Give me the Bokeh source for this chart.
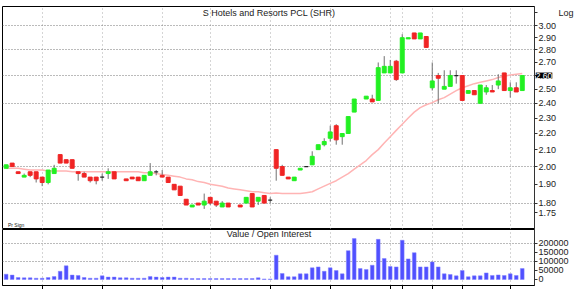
import math
from bokeh.plotting import figure
from bokeh.layouts import column
from bokeh.models import Range1d, FixedTicker, PrintfTickFormatter, Label
from bokeh.embed import file_html
from bokeh.resources import INLINE

NaN = float("nan")

# ---- data ----
day = list(range(87))
open_ = [1.99, 2.02, 1.97, 1.94, 1.97, 1.97, 1.94, 1.91, 1.96, 2.07, 2.04, 2.04, 1.97, 1.96, 1.94, 1.94, 1.94, 1.96, 1.97, NaN,
         1.93, 1.94, 1.94, 1.92, 1.95, 1.97, 1.95, 1.94, 1.90, 1.89, 1.82, 1.78, 1.80, 1.79, 1.83, 1.81, 1.78, 1.80, NaN, 1.79,
         1.80, 1.85, 1.81, 1.84, 1.815, 2.10, 2.00, 1.94, 1.92, 1.98, 2.00, 2.01, 2.10, 2.13, 2.17, 2.25, 2.18, 2.20, 2.34, NaN,
         2.43, 2.43, 2.42, 2.62, 2.62, 2.71, 2.62, 2.89, 2.94, 2.89, 2.91, 2.51, 2.60, 2.50, 2.52, 2.60, 2.60, 2.47, 2.49, 2.40,
         2.48, 2.49, 2.53, 2.62, 2.49, 2.51, 2.49]
high = [2.01, 2.02, 1.97, 1.96, 1.97, 1.97, 1.94, 1.98, 2.01, 2.07, 2.04, 2.04, 1.97, 1.97, 1.94, 1.94, 1.96, 1.99, 1.97, NaN,
        1.93, 1.94, 1.94, 1.95, 2.02, 1.98, 1.98, 1.94, 1.90, 1.89, 1.82, 1.79, 1.80, 1.85, 1.83, 1.81, 1.81, 1.80, NaN, 1.79,
        1.83, 1.85, 1.83, 1.84, 1.83, 2.10, 2.01, 1.94, 1.94, 1.99, 2.00, 2.09, 2.13, 2.17, 2.25, 2.26, 2.20, 2.31, 2.43, NaN,
        2.45, 2.46, 2.70, 2.75, 2.72, 2.72, 2.93, 2.90, 2.94, 2.94, 2.91, 2.70, 2.62, 2.64, 2.64, 2.64, 2.60, 2.49, 2.49, 2.53,
        2.53, 2.53, 2.61, 2.62, 2.55, 2.55, 2.60]
low = [1.99, 2.00, 1.96, 1.94, 1.94, 1.91, 1.89, 1.90, 1.96, 2.02, 2.02, 1.99, 1.92, 1.94, 1.91, 1.90, 1.92, 1.93, 1.93, NaN,
       1.92, 1.93, 1.92, 1.92, 1.95, 1.95, 1.94, 1.91, 1.87, 1.84, 1.79, 1.78, 1.79, 1.77, 1.79, 1.78, 1.78, 1.78, NaN, 1.78,
       1.80, 1.78, 1.79, 1.80, 1.80, 1.92, 1.95, 1.93, 1.92, 1.98, 2.00, 2.01, 2.10, 2.12, 2.15, 2.13, 2.13, 2.20, 2.34, NaN,
       2.43, 2.41, 2.42, 2.62, 2.62, 2.56, 2.62, 2.89, 2.89, 2.89, 2.82, 2.49, 2.40, 2.50, 2.52, 2.54, 2.42, 2.47, 2.46, 2.40,
       2.46, 2.48, 2.50, 2.49, 2.44, 2.48, 2.49]
close = [2.01, 2.00, 1.96, 1.95, 1.95, 1.93, 1.91, 1.98, 1.99, 2.02, 2.02, 1.99, 1.96, 1.94, 1.92, 1.92, 1.94, 1.97, 1.93, NaN,
         1.92, 1.93, 1.92, 1.95, 1.97, 1.97, 1.94, 1.91, 1.87, 1.84, 1.79, 1.79, 1.79, 1.81, 1.80, 1.79, 1.80, 1.78, NaN, 1.78,
         1.83, 1.78, 1.83, 1.80, 1.815, 1.99, 1.95, 1.93, 1.94, 1.99, 2.00, 2.06, 2.13, 2.15, 2.21, 2.16, 2.20, 2.31, 2.43, NaN,
         2.45, 2.41, 2.66, 2.67, 2.67, 2.57, 2.90, 2.90, 2.89, 2.94, 2.82, 2.56, 2.58, 2.52, 2.60, 2.60, 2.42, 2.49, 2.46, 2.53,
         2.51, 2.48, 2.56, 2.49, 2.51, 2.48, 2.60]
ma_line = [1.99, 1.99, 1.99, 1.985, 1.98, 1.98, 1.98, 1.975, 1.975, 1.975, 1.975, 1.97, 1.97, 1.97, 1.97, 1.97, 1.97, 1.97, 1.97, 1.97,
           1.97, 1.97, 1.97, 1.965, 1.965, 1.96, 1.955, 1.95, 1.945, 1.94, 1.93, 1.925, 1.915, 1.91, 1.90, 1.895, 1.89, 1.88, 1.875, 1.87,
           1.865, 1.86, 1.86, 1.855, 1.85, 1.853, 1.85, 1.85, 1.85, 1.85, 1.855, 1.86, 1.875, 1.89, 1.905, 1.92, 1.94, 1.96, 1.985, 2.01,
           2.035, 2.07, 2.10, 2.14, 2.18, 2.22, 2.26, 2.30, 2.34, 2.37, 2.39, 2.405, 2.425, 2.44, 2.465, 2.49, 2.51, 2.525, 2.54, 2.55,
           2.56, 2.57, 2.585, 2.595, 2.605, 2.61, 2.615]
value = [29000, 24000, 11000, 9000, 9000, 7000, 7000, 11000, 16000, 45000, 75000, 24000, 22000, 11000, 7000, 7000, 20000, 13000,
         13000, 9000, 9000, 7000, 7000, 7000, 16000, 13000, 11000, 13000, 13000, 7000, 7000, 5000, 5000, 5000, 5000, 5000, 5000,
         5000, 5000, 5000, 5000, 5000, 9000, 3000, 3000, 133000, 33000, 15000, 15000, 31000, 31000, 64000, 69000, 45000, 64000,
         49000, 31000, 158000, 224000, 60000, 55000, 78000, 220000, 115000, 71000, 69000, 215000, 113000, 147000, 69000, 69000,
         96000, 69000, 31000, 27000, 20000, 49000, 15000, 20000, 20000, 36000, 22000, 25000, 22000, 31000, 22000, 60000]
price_ticks = [3.00, 2.90, 2.80, 2.70, 2.60, 2.50, 2.40, 2.30, 2.20, 2.10, 2.00, 1.90, 1.80, 1.75]
price_grid = [3.00, 2.80, 2.60, 2.40, 2.00, 1.80]
value_ticks = [0, 50000, 100000, 150000, 200000]
value_grid = [100000, 200000]
date_grid = [6, 16, 26, 34, 44, 54, 64, 66, 71, 76, 84]
last_price = 2.60
scale_label_pos = 3.118
title_text = "S Hotels and Resorts PCL (SHR)"
panel_text = "Value / Open Interest"

GREEN = "#22f022"
RED = "#f02424"
FONT = "Liberation Sans"
FS = "9px"

# ---- derived columns ----
up_x, up_t, up_b = [], [], []
dn_x, dn_t, dn_b = [], [], []
dj_x0, dj_x1, dj_y = [], [], []
wk_x, wk_h, wk_l = [], [], []
BW = 0.66
for i, o, h, l, c in zip(day, open_, high, low, close):
    if math.isnan(o):
        continue
    wk_x.append(i); wk_h.append(h); wk_l.append(l)
    if c > o:
        up_x.append(i); up_t.append(c); up_b.append(o)
    elif c < o:
        dn_x.append(i); dn_t.append(o); dn_b.append(c)
    else:
        dj_x0.append(i - BW / 2); dj_x1.append(i + BW / 2); dj_y.append(o)

X_END = 88.04
xr = Range1d(-0.61, X_END)


def style_right_axis(ax):
    ax.major_label_text_font = FONT
    ax.major_label_text_font_size = FS
    ax.major_label_text_color = "#222222"
    ax.major_tick_out = 3
    ax.major_tick_in = 0
    ax.minor_tick_out = 0
    ax.minor_tick_in = 0
    ax.major_label_standoff = 1
    ax.axis_line_color = "#333333"
    ax.major_tick_line_color = "#333333"


p = figure(width=576, height=229, x_range=xr, y_range=Range1d(1.668, 3.173),
           y_axis_type="log", y_axis_location="right", output_backend="svg",
           toolbar_location=None, min_border_left=2, min_border_right=39,
           min_border_top=0, min_border_bottom=0)
p.xaxis.visible = False
p.outline_line_color = "black"
p.yaxis.ticker = FixedTicker(ticks=price_ticks + [scale_label_pos])
p.yaxis.formatter = PrintfTickFormatter(format="%.2f")
# the last price is shown in its own black box below; "Log" marks the scale type
p.yaxis.major_label_overrides = {scale_label_pos: "\u00a0" * 8 + "Log", last_price: ""}
style_right_axis(p.yaxis[0])
p.ygrid.ticker = FixedTicker(ticks=price_grid)
p.ygrid.grid_line_color = "#777777"
p.ygrid.grid_line_dash = "1 2"
p.xgrid.ticker = FixedTicker(ticks=date_grid)
p.xgrid.grid_line_color = "#aaaaaa"
p.xgrid.grid_line_dash = "1 3"

p.line(day, ma_line, line_color="#ffb4b4", line_width=1.5)
p.segment(x0=wk_x, y0=wk_l, x1=wk_x, y1=wk_h, line_color="#707070", line_width=1)
p.vbar(x=up_x, top=up_t, bottom=up_b, width=BW, fill_color=GREEN, line_color=GREEN)
p.vbar(x=dn_x, top=dn_t, bottom=dn_b, width=BW, fill_color=RED, line_color=RED)
p.segment(x0=dj_x0, y0=dj_y, x1=dj_x1, y1=dj_y, line_color="#222222", line_width=1.2)

p.add_layout(Label(x=43.8, y=3.118, text=title_text, text_font=FONT, text_font_size=FS,
                   text_align="center", text_baseline="middle", text_color="#222222"))
p.add_layout(Label(x=0.3, y=1.692, text="Pr Sign", text_font=FONT, text_font_size="5px",
                   text_align="left", text_baseline="middle", text_color="#222222"))

# last-price box: placed in the top side panel so it is not clipped to the frame
p.add_layout(Label(x=88.25, y=last_price, text="%.2f" % last_price, text_font=FONT, text_font_size="8.5px",
                   text_align="left", text_baseline="middle", text_color="white",
                   background_fill_color="black", background_fill_alpha=1), "above")

q = figure(width=576, height=60, x_range=xr, y_range=Range1d(-32900, 274000),
           y_axis_location="right", output_backend="svg", toolbar_location=None,
           min_border_left=2, min_border_right=39, min_border_top=0, min_border_bottom=4)
q.outline_line_color = "black"
q.yaxis.ticker = FixedTicker(ticks=value_ticks)
q.yaxis.formatter = PrintfTickFormatter(format="%d")
style_right_axis(q.yaxis[0])
q.xaxis.ticker = FixedTicker(ticks=date_grid)
q.xaxis.major_label_text_font_size = "0px"
q.xaxis.major_label_standoff = 0
q.xaxis.major_tick_out = 4
q.xaxis.major_tick_in = 0
q.xaxis.minor_tick_out = 0
q.xaxis.axis_line_color = "black"
q.ygrid.ticker = FixedTicker(ticks=value_grid)
q.ygrid.grid_line_color = "#777777"
q.ygrid.grid_line_dash = "1 2"
q.xgrid.ticker = FixedTicker(ticks=date_grid)
q.xgrid.grid_line_color = "#aaaaaa"
q.xgrid.grid_line_dash = "1 3"

q.vbar(x=day, top=value, bottom=0, width=0.62, fill_color="#5050ff", line_color="#8080ff", line_width=0.5)
q.add_layout(Label(x=43.8, y=252000, text=panel_text, text_font=FONT, text_font_size=FS,
                   text_align="center", text_baseline="middle", text_color="#222222"))

layout = column(p, q, spacing=0)
open("out.html", "w").write(file_html(layout, INLINE))
